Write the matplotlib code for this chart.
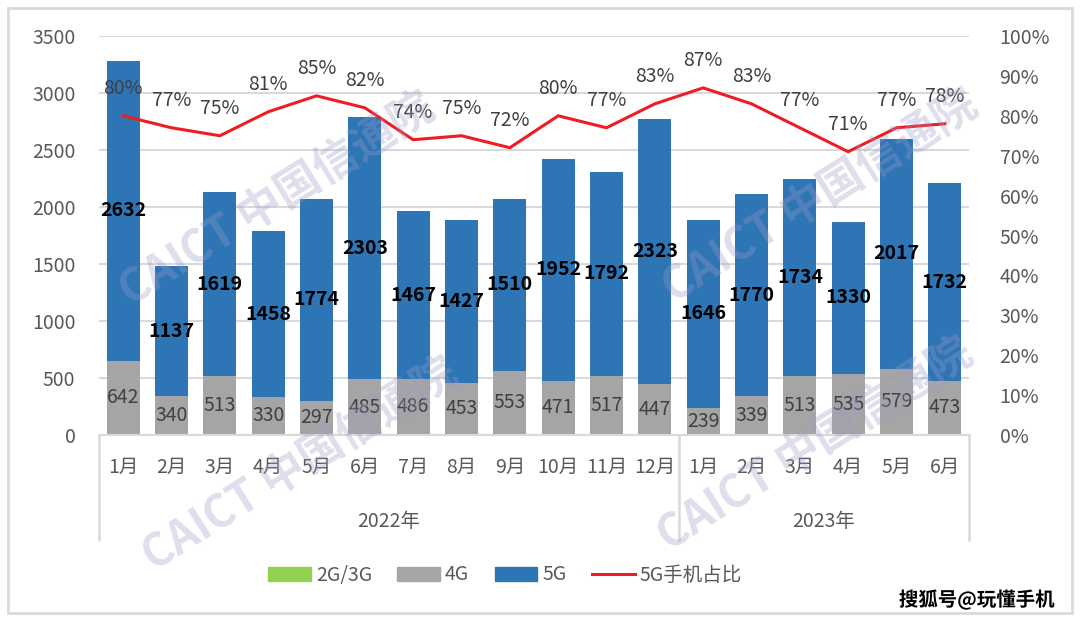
import numpy as np
import matplotlib
matplotlib.use("Agg")
import matplotlib.pyplot as plt
import matplotlib.patheffects as pe
from matplotlib.patches import Patch, Rectangle
from matplotlib.lines import Line2D

plt.rcParams["font.family"] = ["Noto Sans CJK SC", "DejaVu Sans"]

# données
mois = ["1月", "2月", "3月", "4月", "5月", "6月", "7月", "8月", "9月", "10月", "11月", "12月",
        "1月", "2月", "3月", "4月", "5月", "6月"]
annees = ["2022年", "2023年"]
g23 = [10, 2, 2, 2, 2, 2, 8, 2, 8, 2, 2, 2, 2, 2, 2, 2, 2, 2]
g4 = [642, 340, 513, 330, 297, 485, 486, 453, 553, 471, 517, 447, 239, 339, 513, 535, 579, 473]
g5 = [2632, 1137, 1619, 1458, 1774, 2303, 1467, 1427, 1510, 1952, 1792, 2323,
      1646, 1770, 1734, 1330, 2017, 1732]
pct = [80, 77, 75, 81, 85, 82, 74, 75, 72, 80, 77, 83, 87, 83, 77, 71, 77, 78]

c_vert = "#92D050"
c_gris = "#A5A5A5"
c_bleu = "#2E75B6"
c_rouge = "#EE1C25"
c_texte = "#595959"
c_grille = "#D9D9D9"

x = np.arange(len(mois))
g23 = np.array(g23)
g4 = np.array(g4)
g5 = np.array(g5)

fig = plt.figure(figsize=(10.8, 6.24), dpi=100)
ax = fig.add_axes([99 / 1080, 1 - 435 / 624, 870 / 1080, 399 / 624])

ax.bar(x, g23, width=0.68, color=c_vert, zorder=2)
ax.bar(x, g4, width=0.68, bottom=g23, color=c_gris, zorder=2)
ax.bar(x, g5, width=0.68, bottom=g23 + g4, color=c_bleu, zorder=2)

ax.set_xlim(-0.5, len(mois) - 0.5)
ax.set_ylim(0, 3500)
ax.set_yticks(np.arange(0, 3501, 500))
ax.yaxis.grid(True, color=c_grille, linewidth=1.5, zorder=0)
ax.set_axisbelow(True)
ax.tick_params(axis="y", length=0, labelsize=14, labelcolor=c_texte, pad=17)
ax.set_xticks([])
for s in ["top", "right", "left"]:
    ax.spines[s].set_visible(False)
ax.spines["bottom"].set_color(c_grille)
ax.spines["bottom"].set_linewidth(1.5)

# étiquettes des barres
for i in range(len(mois)):
    ax.text(x[i], g23[i] + g4[i] / 2, str(g4[i]), ha="center", va="center",
            fontsize=14, color="#404040", zorder=5)
    ax.text(x[i], g23[i] + g4[i] + g5[i] / 2, str(g5[i]), ha="center", va="center",
            fontsize=14, fontweight="bold", color="black", zorder=5)

# axe des catégories à deux niveaux
tr = ax.get_xaxis_transform()
for i in range(len(mois)):
    ax.text(x[i], -0.08, mois[i], transform=tr, ha="center", va="center",
            fontsize=14, color=c_texte)
ax.text(5.5, -0.218, annees[0], transform=tr, ha="center", va="center", fontsize=14, color=c_texte)
ax.text(14.5, -0.218, annees[1], transform=tr, ha="center", va="center", fontsize=14, color=c_texte)
for xv in [-0.5, 11.5, 17.5]:
    ax.plot([xv, xv], [0, -0.263], transform=tr, color=c_grille, lw=1.8, clip_on=False)

# courbe part des mobiles 5G
ax2 = ax.twinx()
ax2.set_ylim(0, 1)
ax2.set_yticks(np.arange(0, 1.01, 0.1))
ax2.set_yticklabels([f"{int(round(v * 100))}%" for v in np.arange(0, 1.01, 0.1)])
ax2.tick_params(axis="y", length=0, labelsize=14, labelcolor=c_texte, pad=22)
for s in ax2.spines.values():
    s.set_visible(False)
p = np.array(pct) / 100
ax2.plot(x, p, color=c_rouge, lw=2.2, zorder=4)
for i in range(len(mois)):
    ax2.annotate(f"{pct[i]}%", (x[i], p[i]), xytext=(0, 12), textcoords="offset points",
                 ha="center", va="bottom", fontsize=14, color="#404040", zorder=6)

# filigranes
for (cx, cy) in [(277, 200), (300, 465), (820, 197), (815, 445)]:
    fig.text(cx / 1080, 1 - cy / 624, "CAICT 中国信通院", rotation=32, ha="center", va="center",
             fontsize=32, fontweight="bold", color="#9A9AC8", alpha=0.33, zorder=10)

# légende
handles = [Patch(color=c_vert), Patch(color=c_gris), Patch(color=c_bleu),
           Line2D([0], [0], color=c_rouge, lw=2.2)]
labels = ["2G/3G", "4G", "5G", "5G手机占比"]
fig.legend(handles, labels, loc="center", bbox_to_anchor=(505 / 1080, 1 - 575 / 624), ncol=4,
           frameon=False, fontsize=14, handlelength=2.2, handletextpad=0.25,
           columnspacing=1.3, labelcolor=c_texte)

# cadre
fig.patches.append(Rectangle((8 / 1080, 1 - 613 / 624), 1064 / 1080, 605 / 624,
                             transform=fig.transFigure, fill=False, edgecolor=c_grille, lw=2))

fig.text(1055 / 1080, 1 - 600 / 624, "搜狐号@玩懂手机", ha="right", va="center", fontsize=14,
         fontweight="bold", color="black",
         path_effects=[pe.withStroke(linewidth=2, foreground="white")])

fig.savefig("out.png", dpi=100)
